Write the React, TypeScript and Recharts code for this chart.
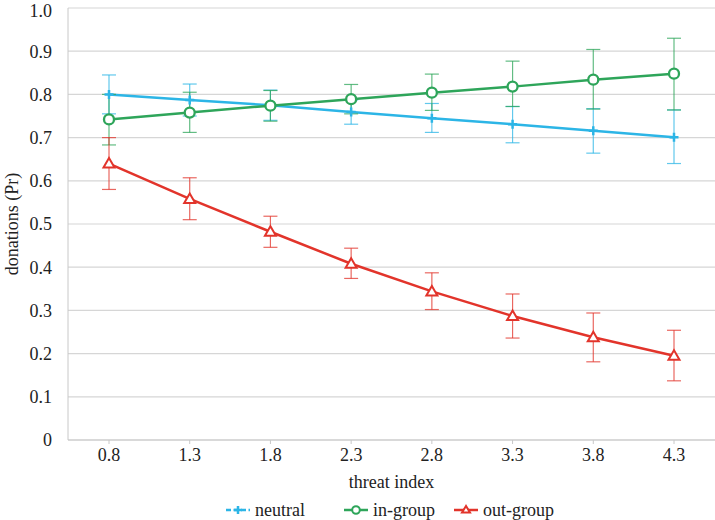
import React from 'react';
import { LineChart, Line, XAxis, YAxis, CartesianGrid, ErrorBar, Legend } from 'recharts';

const threat = ['0.8', '1.3', '1.8', '2.3', '2.8', '3.3', '3.8', '4.3'];
const yTicks = [0, 0.1, 0.2, 0.3, 0.4, 0.5, 0.6, 0.7, 0.8, 0.9, 1.0];

const neutral = [0.8, 0.787, 0.775, 0.759, 0.745, 0.731, 0.716, 0.701];
const neutralLo = [0.755, 0.75, 0.74, 0.731, 0.712, 0.688, 0.664, 0.64];
const neutralHi = [0.845, 0.824, 0.81, 0.787, 0.779, 0.772, 0.767, 0.764];

const inGroup = [0.742, 0.758, 0.774, 0.789, 0.804, 0.818, 0.834, 0.848];
const inGroupLo = [0.683, 0.712, 0.738, 0.755, 0.763, 0.772, 0.766, 0.764];
const inGroupHi = [0.8, 0.805, 0.809, 0.823, 0.847, 0.877, 0.904, 0.93];

const outGroup = [0.64, 0.558, 0.482, 0.408, 0.344, 0.287, 0.238, 0.195];
const outGroupLo = [0.58, 0.51, 0.446, 0.374, 0.302, 0.236, 0.181, 0.137];
const outGroupHi = [0.7, 0.607, 0.518, 0.444, 0.387, 0.338, 0.294, 0.254];

const BLUE = '#2cb5e6';
const GREEN = '#2ea55a';
const RED = '#e2342b';
const FONT = "'Liberation Serif', 'Times New Roman', serif";

const data = threat.map((x, i) => ({
  x,
  neutral: neutral[i],
  neutralErr: [neutral[i] - neutralLo[i], neutralHi[i] - neutral[i]],
  inGroup: inGroup[i],
  inGroupErr: [inGroup[i] - inGroupLo[i], inGroupHi[i] - inGroup[i]],
  outGroup: outGroup[i],
  outGroupErr: [outGroup[i] - outGroupLo[i], outGroupHi[i] - outGroup[i]],
}));

const PlusDot = (props: any) => {
  const { cx, cy } = props;
  if (cx == null || cy == null) return null;
  return (
    <path
      d={`M${cx - 4.5},${cy}h9M${cx},${cy - 4.5}v9`}
      stroke={BLUE}
      strokeWidth={2.5}
      fill="none"
    />
  );
};

const CircleDot = (props: any) => {
  const { cx, cy } = props;
  if (cx == null || cy == null) return null;
  return <circle cx={cx} cy={cy} r={5} fill="#fff" stroke={GREEN} strokeWidth={2.3} />;
};

const TriangleDot = (props: any) => {
  const { cx, cy } = props;
  if (cx == null || cy == null) return null;
  return (
    <polygon
      points={`${cx},${cy - 5.5} ${cx - 5.5},${cy + 4} ${cx + 5.5},${cy + 4}`}
      fill="#fff"
      stroke={RED}
      strokeWidth={2}
    />
  );
};

const legendItems = [
  { name: 'neutral', color: BLUE, kind: 'plus', width: 118 },
  { name: 'in-group', color: GREEN, kind: 'circle', width: 110 },
  { name: 'out-group', color: RED, kind: 'triangle', width: 110 },
];

const LegendContent = () => (
  <div style={{ display: 'flex', paddingLeft: 226, paddingTop: 2, fontFamily: FONT, fontSize: 18, color: '#222', lineHeight: '20px', whiteSpace: 'nowrap' }}>
    {legendItems.map(item => (
      <div key={item.name} style={{ display: 'flex', alignItems: 'center', gap: 5, width: item.width }}>
        <svg width={24} height={14}>
          <line
            x1={0}
            y1={7}
            x2={24}
            y2={7}
            stroke={item.color}
            strokeWidth={2.5}
            strokeDasharray={item.kind === 'plus' ? '5 2.5' : undefined}
          />
          {item.kind === 'plus' && <path d="M8,7h8M12,3v8" stroke={item.color} strokeWidth={2.5} />}
          {item.kind === 'circle' && <circle cx={12} cy={7} r={3.8} fill="#fff" stroke={item.color} strokeWidth={2} />}
          {item.kind === 'triangle' && (
            <polygon points="12,3 8,9.5 16,9.5" fill="#fff" stroke={item.color} strokeWidth={2} />
          )}
        </svg>
        <span>{item.name}</span>
      </div>
    ))}
  </div>
);

const tickStyle = { fontFamily: FONT, fontSize: 18, fill: '#222' };

export default function App() {
  return (
    <div style={{ position: 'absolute', left: 0, top: 0, background: '#fff' }}>
      <LineChart width={715} height={520} data={data} margin={{ top: 8, right: 0, left: 0, bottom: 0 }}>
        <CartesianGrid vertical={false} stroke="#d6d6d6" strokeWidth={1.2} />
        <XAxis
          dataKey="x"
          padding={{ left: 41, right: 41 }}
          height={58}
          stroke="#c8c8c8"
          tickSize={4}
          tickMargin={4}
          tick={tickStyle}
          label={{ value: 'threat index', position: 'insideBottom', offset: 10, style: { fontFamily: FONT, fontSize: 18, fill: '#222' } }}
        />
        <YAxis
          domain={[0, 1]}
          ticks={yTicks}
          width={68}
          stroke="#c8c8c8"
          tickLine={false}
          tickMargin={10}
          tick={tickStyle}
          tickFormatter={(v: number) => (v === 0 ? '0' : v.toFixed(1))}
          label={{ value: 'donations (Pr)', angle: -90, position: 'insideLeft', offset: 12, style: { fontFamily: FONT, fontSize: 18, fill: '#222', textAnchor: 'middle' } }}
        />
        <Legend verticalAlign="bottom" height={22} content={<LegendContent />} />
        <Line dataKey="neutral" stroke={BLUE} strokeWidth={2.5} dot={<PlusDot />} isAnimationActive={false}>
          <ErrorBar dataKey="neutralErr" direction="y" width={7} stroke={BLUE} strokeOpacity={0.75} strokeWidth={1.2} />
        </Line>
        <Line dataKey="inGroup" stroke={GREEN} strokeWidth={2.5} dot={<CircleDot />} isAnimationActive={false}>
          <ErrorBar dataKey="inGroupErr" direction="y" width={7} stroke={GREEN} strokeOpacity={0.75} strokeWidth={1.2} />
        </Line>
        <Line dataKey="outGroup" stroke={RED} strokeWidth={2.5} dot={<TriangleDot />} isAnimationActive={false}>
          <ErrorBar dataKey="outGroupErr" direction="y" width={7} stroke={RED} strokeOpacity={0.75} strokeWidth={1.2} />
        </Line>
      </LineChart>
    </div>
  );
}
